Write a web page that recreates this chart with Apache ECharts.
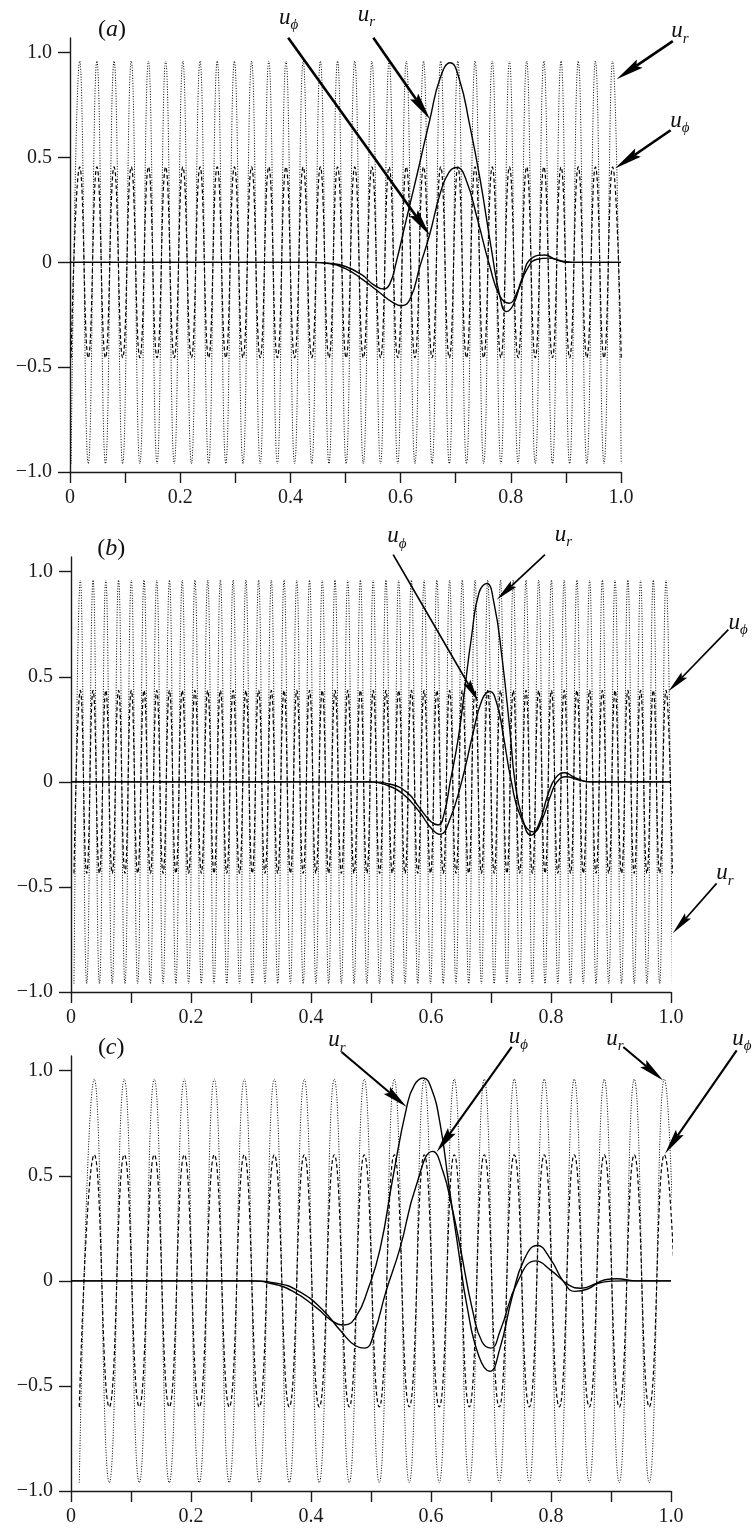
<!DOCTYPE html>
<html><head><meta charset="utf-8">
<script src="https://cdn.jsdelivr.net/npm/echarts@6/dist/echarts.min.js"></script>
<style>html,body{margin:0;padding:0;background:#fff}#c{width:755px;height:1528px}</style>
</head><body><div id="c"></div>
<script>
// ---------------- DATA ----------------
const xTickValues = [0, 0.1, 0.2, 0.3, 0.4, 0.5, 0.6, 0.7, 0.8, 0.9, 1.0];
const xLabelValues = [0, 0.2, 0.4, 0.6, 0.8, 1.0];
const yLabelValues = [-1, -0.5, 0, 0.5, 1];

// panel (a): positions of maxima / minima of the oscillating u_r (dotted) and u_phi (dashed)
const aPeaks = [0.0176,0.0488,0.0800,0.1112,0.1424,0.1736,0.2048,0.2360,0.2672,0.2984,0.3296,0.3608,0.3920,0.4232,0.4544,0.4856,0.5168,0.5480,0.5792,0.6104,0.6416,0.6728,0.7040,0.7352,0.7664,0.7976,0.8288,0.8600,0.8912,0.9224,0.9536,0.9848];
const aTroughs = [0.0020,0.0332,0.0644,0.0956,0.1268,0.1580,0.1892,0.2204,0.2516,0.2828,0.3140,0.3452,0.3764,0.4076,0.4388,0.4700,0.5012,0.5324,0.5636,0.5948,0.6260,0.6572,0.6884,0.7196,0.7508,0.7820,0.8132,0.8444,0.8756,0.9068,0.9380,0.9692,1.0004];
const aUrAmp = 0.96;
const aUphiAmp = 0.455;
const aUrPacket = [[0,0],[0.44,0],[0.47,-0.004],[0.50,-0.02],[0.53,-0.06],[0.55,-0.105],[0.569,-0.127],[0.58,-0.105],[0.592,0.0],[0.61,0.2],[0.63,0.42],[0.653,0.68],[0.672,0.88],[0.690,0.952],[0.707,0.87],[0.725,0.66],[0.744,0.40],[0.765,0.06],[0.78,-0.16],[0.792,-0.235],[0.805,-0.2],[0.82,-0.08],[0.838,0.02],[0.862,0.035],[0.88,0.015],[0.905,0.0],[1,0]];
const aUphiPacket = [[0,0],[0.44,0],[0.47,-0.006],[0.50,-0.03],[0.53,-0.08],[0.56,-0.14],[0.585,-0.19],[0.602,-0.207],[0.618,-0.17],[0.635,-0.02],[0.653,0.135],[0.672,0.33],[0.688,0.43],[0.702,0.452],[0.718,0.40],[0.74,0.2],[0.762,-0.02],[0.78,-0.16],[0.797,-0.195],[0.812,-0.14],[0.83,-0.03],[0.848,0.015],[0.87,0.02],[0.89,0.008],[0.912,0],[1,0]];

// panel (b)
const bPeaks = [0.0156,0.0368,0.0580,0.0793,0.1005,0.1217,0.1429,0.1641,0.1854,0.2066,0.2278,0.2490,0.2702,0.2915,0.3127,0.3339,0.3551,0.3763,0.3976,0.4188,0.4400,0.4612,0.4824,0.5037,0.5249,0.5461,0.5673,0.5885,0.6098,0.6310,0.6522,0.6734,0.6946,0.7159,0.7371,0.7583,0.7795,0.8007,0.8220,0.8432,0.8644,0.8856,0.9068,0.9281,0.9493,0.9705,0.9917];
const bTroughs = [0.0050,0.0262,0.0474,0.0687,0.0899,0.1111,0.1323,0.1535,0.1748,0.1960,0.2172,0.2384,0.2596,0.2809,0.3021,0.3233,0.3445,0.3657,0.3870,0.4082,0.4294,0.4506,0.4718,0.4931,0.5143,0.5355,0.5567,0.5779,0.5992,0.6204,0.6416,0.6628,0.6840,0.7053,0.7265,0.7477,0.7689,0.7901,0.8114,0.8326,0.8538,0.8750,0.8962,0.9175,0.9387,0.9599,0.9811,1.0023];
const bUrAmp = 0.96;
const bUphiAmp = 0.435;
const bUrPacket = [[0,0],[0.50,0],[0.53,-0.01],[0.56,-0.05],[0.58,-0.12],[0.60,-0.19],[0.612,-0.205],[0.622,-0.15],[0.632,0],[0.645,0.2],[0.654,0.39],[0.668,0.7],[0.68,0.9],[0.693,0.944],[0.705,0.85],[0.718,0.6],[0.732,0.23],[0.74,0.0],[0.752,-0.17],[0.767,-0.254],[0.78,-0.2],[0.795,-0.06],[0.808,0.02],[0.823,0.043],[0.84,0.02],[0.865,0],[1,0]];
const bUphiPacket = [[0,0],[0.50,0],[0.52,-0.01],[0.55,-0.05],[0.58,-0.14],[0.60,-0.22],[0.615,-0.25],[0.63,-0.19],[0.651,0],[0.67,0.23],[0.685,0.39],[0.698,0.43],[0.71,0.37],[0.72,0.23],[0.734,0],[0.75,-0.17],[0.771,-0.238],[0.785,-0.18],[0.80,-0.06],[0.81,0.0],[0.825,0.024],[0.845,0.01],[0.865,0],[1,0]];

// panel (c)
const cPeaks = [0.0388,0.0888,0.1388,0.1888,0.2388,0.2888,0.3388,0.3888,0.4388,0.4888,0.5388,0.5888,0.6388,0.6888,0.7388,0.7888,0.8388,0.8888,0.9388,0.9888];
const cTroughs = [0.0138,0.0638,0.1138,0.1638,0.2138,0.2638,0.3138,0.3638,0.4138,0.4638,0.5138,0.5638,0.6138,0.6638,0.7138,0.7638,0.8138,0.8638,0.9138,0.9638,1.0138];
const cUrAmp = 0.96;
const cUphiAmp = 0.60;
const cUrPacket = [[0,0],[0.30,0],[0.33,-0.01],[0.37,-0.05],[0.41,-0.13],[0.435,-0.19],[0.455,-0.21],[0.475,-0.17],[0.495,-0.04],[0.515,0.15],[0.537,0.5],[0.5595,0.827],[0.572,0.93],[0.587,0.965],[0.60,0.92],[0.615,0.75],[0.63,0.45],[0.6455,0.15],[0.66,-0.12],[0.68,-0.36],[0.698,-0.43],[0.715,-0.32],[0.735,-0.08],[0.755,0.10],[0.777,0.168],[0.80,0.10],[0.82,0.0],[0.84,-0.05],[0.86,-0.04],[0.89,0.005],[0.91,0.01],[0.94,0],[1,0]];
const cUphiPacket = [[0,0],[0.30,0],[0.34,-0.01],[0.38,-0.05],[0.42,-0.14],[0.45,-0.24],[0.475,-0.31],[0.49,-0.32],[0.505,-0.25],[0.525,-0.05],[0.548,0.152],[0.575,0.45],[0.603,0.616],[0.62,0.52],[0.635,0.35],[0.648,0.17],[0.67,-0.15],[0.685,-0.29],[0.70,-0.32],[0.715,-0.24],[0.745,0.0],[0.775,0.095],[0.80,0.05],[0.83,-0.02],[0.85,-0.035],[0.88,-0.01],[0.92,0],[1,0]];

// annotations (data coordinates of each panel)
const aArrows = [[[0.396,1.071],[0.6534,0.127]],[[0.5505,1.071],[0.6534,0.682]],[[1.094,1.055],[0.992,0.873]],[[1.090,0.630],[0.989,0.448]]];
const aTexts = [[0.397,1.168,'ϕ'],[0.538,1.18,'r'],[1.107,1.103,'r'],[1.107,0.674,'ϕ']];
const bArrows = [[[0.537,1.081],[0.679,0.382]],[[0.79,1.081],[0.7095,0.867]],[[1.0955,0.724],[0.9955,0.43]],[[1.076,-0.483],[1.003,-0.72]]];
const bTexts = [[0.543,1.168,'ϕ'],[0.8205,1.176,'r'],[1.112,0.756,'ϕ'],[1.09,-0.435,'r']];
const cArrows = [[[0.451,1.089],[0.5595,0.827]],[[0.7345,1.113],[0.6095,0.613]],[[0.9205,1.113],[0.987,0.954]],[[1.1095,1.097],[0.99,0.605]]];
const cTexts = [[0.443,1.144,'r'],[0.7455,1.16,'ϕ'],[0.9067,1.152,'r'],[1.118,1.152,'ϕ']];
const panelTags = ['a','b','c'];
const panelTagPos = [[0.076,1.11],[0.067,1.11],[0.067,1.11]];

// ---------------- CHART ----------------
const FONT = '"Liberation Serif","Times New Roman",serif';
const grids = [
  {left:70, top:38, width:551, height:434},
  {left:71, top:557, width:600, height:435},
  {left:71, top:1056, width:600, height:435}
];
const arrowStyle = [{lw:2.6,L:28,W:10},{lw:1.7,L:23,W:8},{lw:2.1,L:26,W:9.5}];

function osc(peaks, troughs, amp){
  const pts = peaks.map(x=>[x,amp]).concat(troughs.map(x=>[x,-amp]));
  pts.sort((p,q)=>p[0]-q[0]);
  return pts;
}
const fmtY = v => v===0 ? '0' : (v<0?'\u2212':'') + Math.abs(v).toFixed(1);
const fmtX = v => v===0 ? '0' : v.toFixed(1);

const xAxes = [], yAxes = [], series = [];
const panels = [
  {peaks:aPeaks, troughs:aTroughs, ur:aUrAmp, up:aUphiAmp, urP:aUrPacket, upP:aUphiPacket},
  {peaks:bPeaks, troughs:bTroughs, ur:bUrAmp, up:bUphiAmp, urP:bUrPacket, upP:bUphiPacket},
  {peaks:cPeaks, troughs:cTroughs, ur:cUrAmp, up:cUphiAmp, urP:cUrPacket, upP:cUphiPacket}
];
panels.forEach((p,i)=>{
  const axLine = {show:true,onZero:false,lineStyle:{color:'#1a1a1a',width:1.4}};
  xAxes.push({type:'value',gridIndex:i,min:0,max:1,
    axisLine:axLine,
    axisTick:{show:true,inside:false,length:11,customValues:xTickValues,lineStyle:{color:'#1a1a1a',width:1.4}},
    axisLabel:{show:true,customValues:xLabelValues,margin:16,fontFamily:FONT,fontSize:20,color:'#1a1a1a',formatter:fmtX},
    splitLine:{show:false}});
  yAxes.push({type:'value',gridIndex:i,min:-1,max:1.07,
    axisLine:axLine,
    axisTick:{show:true,inside:false,length:12,customValues:yLabelValues,lineStyle:{color:'#1a1a1a',width:1.4}},
    axisLabel:{show:true,customValues:yLabelValues,margin:18,fontFamily:FONT,fontSize:20,color:'#1a1a1a',formatter:fmtY},
    splitLine:{show:false}});
  const base = {type:'line',xAxisIndex:i,yAxisIndex:i,showSymbol:false,symbol:'none',smooth:true,silent:true,animation:false,clip:true};
  series.push(Object.assign({},base,{name:'u_r osc '+i,data:osc(p.peaks,p.troughs,p.ur),lineStyle:{color:'#000',width:1,type:[1,1.6]}}));
  series.push(Object.assign({},base,{name:'u_phi osc '+i,data:osc(p.peaks,p.troughs,p.up),lineStyle:{color:'#000',width:1.2,type:[4,2.5]}}));
  series.push(Object.assign({},base,{name:'u_r '+i,data:p.urP,lineStyle:{color:'#000',width:1.4,type:'solid'}}));
  series.push(Object.assign({},base,{name:'u_phi '+i,data:p.upP,lineStyle:{color:'#000',width:1.4,type:'solid'}}));
});

const chart = echarts.init(document.getElementById('c'), null, {renderer:'canvas'});
chart.setOption({
  backgroundColor:'#fff',
  animation:false,
  grid: grids,
  xAxis: xAxes,
  yAxis: yAxes,
  series: series
});

// annotations
const graphics = [];
const richLabel = {
  u:{fontFamily:FONT,fontStyle:'italic',fontSize:23,lineHeight:30,verticalAlign:'middle',fill:'#111'},
  s:{fontFamily:FONT,fontStyle:'italic',fontSize:15,lineHeight:30,verticalAlign:'bottom',fill:'#111'}
};
const allArrows = [aArrows,bArrows,cArrows];
const allTexts = [aTexts,bTexts,cTexts];
for (let i=0;i<3;i++){
  const st = arrowStyle[i];
  allArrows[i].forEach(ar=>{
    const p0 = chart.convertToPixel({gridIndex:i}, ar[0]);
    const p1 = chart.convertToPixel({gridIndex:i}, ar[1]);
    const dx = p1[0]-p0[0], dy = p1[1]-p0[1];
    const len = Math.sqrt(dx*dx+dy*dy);
    const ux = dx/len, uy = dy/len, nx = -uy, ny = ux;
    const bx = p1[0]-ux*st.L, by = p1[1]-uy*st.L;
    const mx = p1[0]-ux*st.L*0.85, my = p1[1]-uy*st.L*0.85;
    graphics.push({type:'line',silent:true,shape:{x1:p0[0],y1:p0[1],x2:mx,y2:my},style:{stroke:'#000',lineWidth:st.lw}});
    graphics.push({type:'polygon',silent:true,shape:{points:[[p1[0],p1[1]],[bx+nx*st.W/2,by+ny*st.W/2],[mx,my],[bx-nx*st.W/2,by-ny*st.W/2]]},style:{fill:'#000'}});
  });
  allTexts[i].forEach(t=>{
    const p = chart.convertToPixel({gridIndex:i},[t[0],t[1]]);
    graphics.push({type:'text',silent:true,x:p[0],y:p[1],style:{text:'{u|u}{s|'+t[2]+'}',rich:richLabel,align:'center',verticalAlign:'middle'}});
  });
  const tp = chart.convertToPixel({gridIndex:i}, panelTagPos[i]);
  graphics.push({type:'text',silent:true,x:tp[0],y:tp[1],style:{text:'{p|(}{i|'+panelTags[i]+'}{p|)}',
    rich:{p:{fontFamily:FONT,fontSize:24,fill:'#111'},i:{fontFamily:FONT,fontSize:24,fontStyle:'italic',fill:'#111'}},align:'center',verticalAlign:'middle'}});
}
chart.setOption({graphic:graphics});
</script>
</body></html>
